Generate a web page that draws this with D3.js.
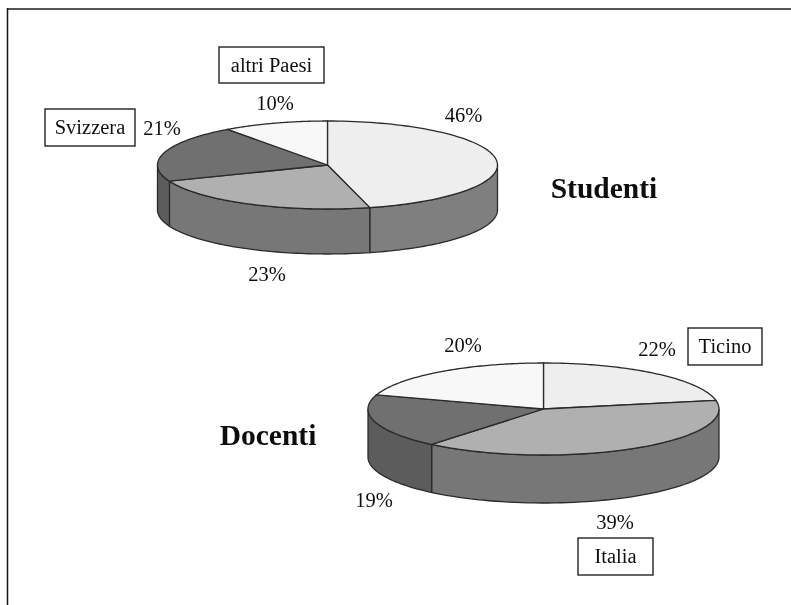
<!DOCTYPE html>
<html>
<head>
<meta charset="utf-8">
<script src="https://cdn.jsdelivr.net/npm/d3@7"></script>
<style>
  html, body { margin: 0; padding: 0; background: #fff; }
  text { font-family: "Liberation Serif", serif; fill: #111; }
</style>
</head>
<body>
<div id="chart"></div>
<script>
const categories = ['Ticino', 'Italia', 'Svizzera', 'altri Paesi'];
const studentiValues = [46, 23, 21, 10];
const docentiValues = [22, 39, 19, 20];

const topColors = ['#eeeeee', '#b0b0b0', '#6f6f6f', '#f8f8f8'];
const sideColors = ['#7f7f7f', '#777777', '#5c5c5c', '#7f7f7f'];

const width = 791, height = 605;

const svg = d3.select('#chart').append('svg')
    .attr('width', width)
    .attr('height', height)
    .style('display', 'block');

const defs = svg.append('defs');
defs.append('filter').attr('id', 'soft')
    .append('feGaussianBlur').attr('stdDeviation', 0.6);
defs.append('filter').attr('id', 'softText')
    .append('feGaussianBlur').attr('stdDeviation', 0.3);

// frame, only top and left survive in the scan
svg.append('path')
    .attr('d', 'M791,9H7.5')
    .attr('fill', 'none')
    .attr('stroke', '#555')
    .attr('stroke-width', 2);
svg.append('path')
    .attr('d', 'M7.5,8V605')
    .attr('fill', 'none')
    .attr('stroke', '#111')
    .attr('stroke-width', 1.5);

function drawPie(values, cx, cy, rx, ry, depth) {
    const g = svg.append('g').attr('filter', 'url(#soft)');
    const arcs = d3.pie().sort(null)(values);
    const x = d3.scaleLinear().domain([-1, 1]).range([cx - rx, cx + rx]);
    const y = d3.scaleLinear().domain([-1, 1]).range([cy - ry, cy + ry]);

    // angle is clockwise from 12 o'clock
    const rim = (a, drop) => [x(Math.sin(a)), y(-Math.cos(a)) + drop];
    const line = d3.line();

    // side wall, only the part that faces the viewer
    arcs.forEach((d, i) => {
        const a0 = Math.max(d.startAngle, Math.PI / 2);
        const a1 = Math.min(d.endAngle, Math.PI * 1.5);
        if (a1 <= a0) return;
        const steps = d3.range(0, 61).map(k => a0 + (a1 - a0) * k / 60);
        const pts = steps.map(a => rim(a, 0))
            .concat(steps.slice().reverse().map(a => rim(a, depth)));
        g.append('path')
            .attr('d', line(pts) + 'Z')
            .attr('fill', sideColors[i])
            .attr('stroke', '#2a2a2a')
            .attr('stroke-width', 1.3);
    });

    // top face
    arcs.forEach((d, i) => {
        const steps = d3.range(0, 91).map(k => d.startAngle + (d.endAngle - d.startAngle) * k / 90);
        const pts = [[x(0), y(0)]].concat(steps.map(a => rim(a, 0)));
        g.append('path')
            .attr('d', line(pts) + 'Z')
            .attr('fill', topColors[i])
            .attr('stroke', '#2a2a2a')
            .attr('stroke-width', 1.3);
    });
}

drawPie(studentiValues, 327.5, 165, 170, 44, 45);
drawPie(docentiValues, 543.5, 409, 175.5, 46, 48);

const labels = svg.append('g').attr('filter', 'url(#softText)');

// percent labels
const pctLabels = [
    { v: studentiValues[0], x: 463.5, y: 122 },
    { v: studentiValues[1], x: 267, y: 281 },
    { v: studentiValues[2], x: 162, y: 135 },
    { v: studentiValues[3], x: 275, y: 110 },
    { v: docentiValues[0], x: 657, y: 356 },
    { v: docentiValues[1], x: 615, y: 529 },
    { v: docentiValues[2], x: 374, y: 507 },
    { v: docentiValues[3], x: 463, y: 352 }
];
labels.selectAll('text.pct').data(pctLabels).enter().append('text')
    .attr('class', 'pct')
    .attr('x', d => d.x)
    .attr('y', d => d.y)
    .attr('text-anchor', 'middle')
    .attr('font-size', 20.5)
    .text(d => d.v + '%');

// boxed category labels
const boxes = [
    { t: categories[3], x: 219, y: 47, w: 105, h: 36, base: 72 },
    { t: categories[2], x: 45, y: 109, w: 90, h: 37, base: 134 },
    { t: categories[0], x: 688, y: 328, w: 74, h: 37, base: 353 },
    { t: categories[1], x: 578, y: 538, w: 75, h: 37, base: 563 }
];
const box = labels.selectAll('g.box').data(boxes).enter().append('g').attr('class', 'box');
box.append('rect')
    .attr('x', d => d.x).attr('y', d => d.y)
    .attr('width', d => d.w).attr('height', d => d.h)
    .attr('fill', '#fff').attr('stroke', '#222').attr('stroke-width', 1.4);
box.append('text')
    .attr('x', d => d.x + d.w / 2)
    .attr('y', d => d.base)
    .attr('text-anchor', 'middle')
    .attr('font-size', 20.5)
    .text(d => d.t);

// pie titles
labels.append('text').attr('x', 604).attr('y', 198).attr('text-anchor', 'middle')
    .attr('font-size', 29.5).attr('font-weight', 'bold').text('Studenti');
labels.append('text').attr('x', 268).attr('y', 445).attr('text-anchor', 'middle')
    .attr('font-size', 29.5).attr('font-weight', 'bold').text('Docenti');
</script>
</body>
</html>
